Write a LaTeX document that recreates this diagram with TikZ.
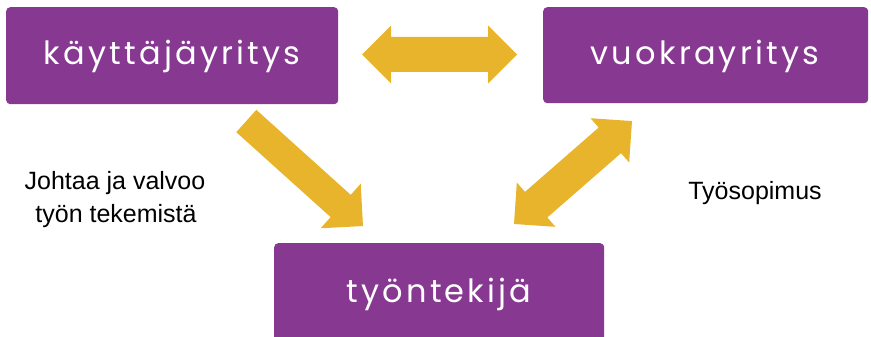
\documentclass[tikz,border=0pt]{standalone}
\usepackage{fontspec}
\setmainfont{Liberation Sans}
\newfontfamily\boxfont[LetterSpace=10]{Poppins}
\definecolor{purp}{RGB}{135,57,146}
\definecolor{gold}{RGB}{231,180,43}
\begin{document}
\begin{tikzpicture}[x=1pt,y=-1pt,
  box/.style={fill=purp,rounded corners=4pt,inner sep=0pt,anchor=north west},
  boxtext/.style={text=white,font=\boxfont\fontsize{32}{38}\selectfont,anchor=base},
  plain/.style={text=black,font=\fontsize{25}{33}\selectfont,anchor=base}]
\clip (0,0) rectangle (871,337);
\node[box,minimum width=332pt,minimum height=97pt] (user) at (6,7) {};
\node[box,minimum width=325pt,minimum height=96pt] (rent) at (543,7) {};
\node[box,minimum width=330pt,minimum height=110pt] (worker) at (274,243) {};
\node[boxtext] (userlbl) at (172,65) {käyttäjäyritys};
\node[boxtext] (rentlbl) at (705,65) {vuokrayritys};
\node[boxtext] (workerlbl) at (439,302) {työntekijä};
\node[plain] (lead1) at (115,189) {Johtaa ja valvoo};
\node[plain] (lead2) at (116,222) {työn tekemistä};
\node[plain] (contract) at (755,199) {Työsopimus};
% horizontal double arrow
\fill[gold,shift={(362,54.5)}] (0,0) -- (29,-29) -- (29,-17.5) -- (126,-17.5) -- (126,-29) -- (155,0)
  -- (126,29) -- (126,17.5) -- (29,17.5) -- (29,29) -- cycle;
% right diagonal double arrow
\fill[gold,shift={(514,224)},rotate=41.1] (0,0) -- (29.4,-29.4) -- (29.4,-17) -- (127.2,-17) -- (127.2,-29.4) -- (156.6,0)
  -- (127.2,29.4) -- (127.2,17) -- (29.4,17) -- (29.4,29.4) -- cycle;
% left diagonal single arrow
\fill[gold,shift={(246.3,121)},rotate=-42] (0,-15) -- (127,-15) -- (127,-30) -- (157,0) -- (127,30) -- (127,15) -- (0,15) -- cycle;
\end{tikzpicture}
\end{document}
